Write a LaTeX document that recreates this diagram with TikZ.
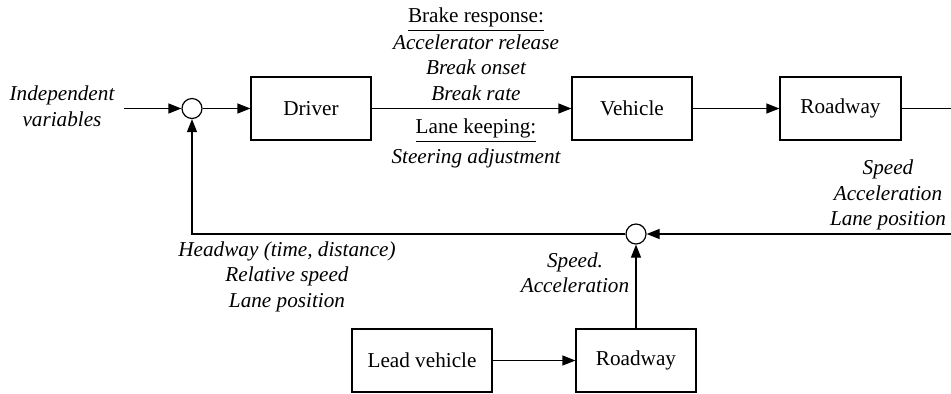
\documentclass[tikz,border=0pt]{standalone}
\usepackage{fontspec}
\setmainfont{Liberation Serif}
\usetikzlibrary{arrows.meta}
\begin{document}
\begin{tikzpicture}[x=0.5pt,y=-0.5pt,
  every node/.append style={font=\fontsize{10.6}{12.75}\selectfont},
  box/.style={draw,line width=0.6pt,minimum height=31.5pt,inner sep=0pt},
  sumnode/.style={draw,circle,line width=0.6pt,minimum size=10pt,inner sep=0pt},
  conn/.style={line width=0.6pt},
  arr/.style={conn,-{Triangle[length=6.5pt,width=5pt]}},
  lbl/.style={font=\fontsize{10.6}{12.75}\selectfont\itshape,align=center,inner sep=0pt}]
\useasboundingbox (0,0) rectangle (951,393);
% blocks
\node[sumnode] (sum1) at (192,108.5) {};
\node[box,minimum width=60pt] (driver) at (311,108.5) {Driver};
\node[box,minimum width=60pt] (vehicle) at (632,108.5) {Vehicle};
\node[box,minimum width=60.5pt] (road1) at (840.5,108.5) {Roadway};
\node[sumnode] (sum2) at (636,234) {};
\node[box,minimum width=70pt] (lead) at (422,360.5) {Lead vehicle};
\node[box,minimum width=60pt] (road2) at (636,360.5) {Roadway};
% labels
\node[lbl,anchor=north] (indep) at (62,85.5) {Independent\\variables};
\node[lbl,anchor=south] (brake) at (476,101) {{\upshape\underline{Brake response:}}\\[0.6pt]Accelerator release\\Break onset\\Break rate};
\node[lbl,anchor=north] (lane) at (476,118.5) {{\upshape\underline{Lane keeping:}}\\[2.2pt]Steering adjustment};
\node[lbl,anchor=north] (outlbl) at (888,159.5) {Speed\\Acceleration\\Lane position};
\node[lbl,anchor=north] (headway) at (287,241) {Headway (time, distance)\\Relative speed\\Lane position};
\node[lbl,anchor=north] (leadlbl) at (575,252) {Speed.\\Acceleration};
% free ends at the right edge
\coordinate (outR) at (951,108.5);
\coordinate (inR) at (951,234);
% connectors
\draw[arr] ([xshift=4.5pt]indep.east |- sum1) -- (sum1);
\draw[arr] (sum1) -- (driver);
\draw[arr] (driver) -- (vehicle);
\draw[arr] (vehicle) -- (road1);
\draw[conn] (road1) -- (outR);
\draw[arr] (inR) -- (sum2);
\draw[arr] (sum2.west) -| (sum1.south);
\draw[arr] (lead) -- (road2);
\draw[arr] (road2) -- (sum2);
\end{tikzpicture}
\end{document}
